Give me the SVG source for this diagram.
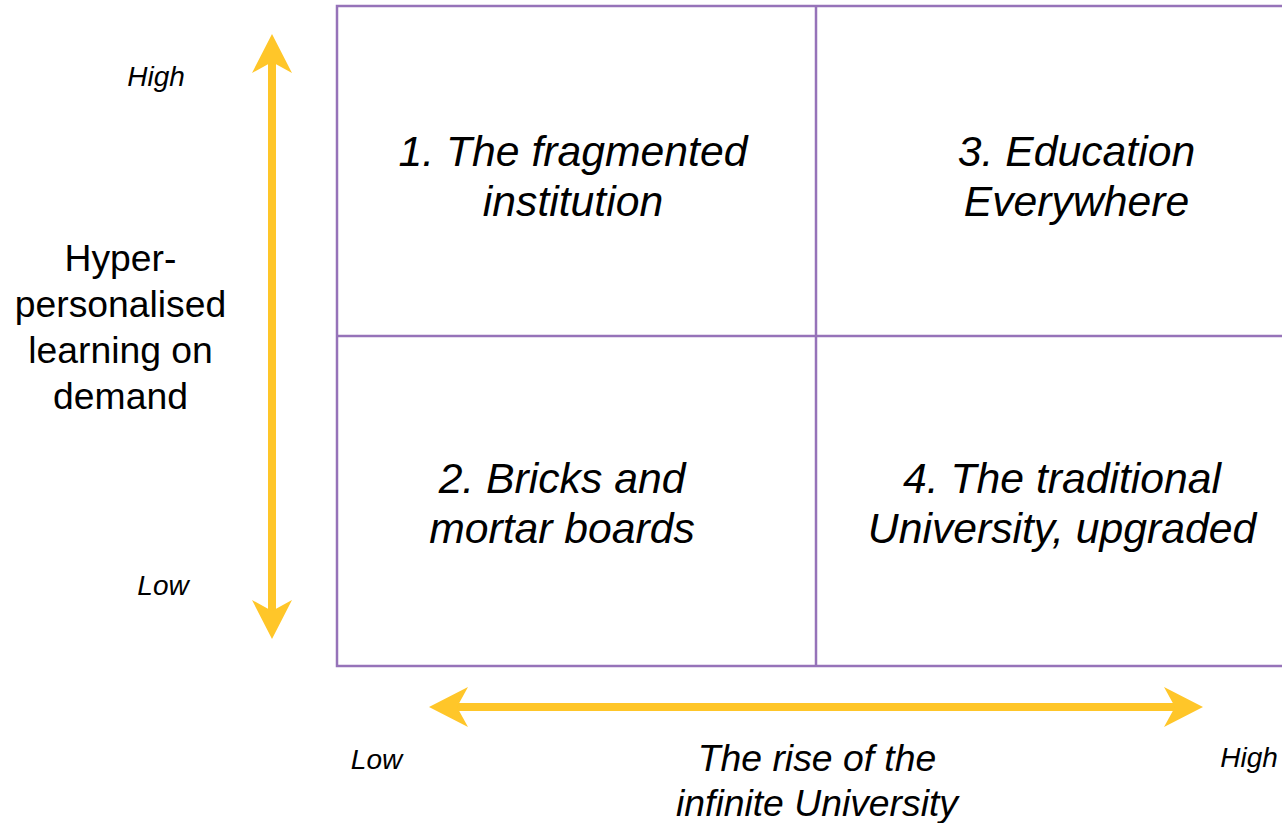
<svg xmlns="http://www.w3.org/2000/svg" width="1282" height="823" viewBox="0 0 1282 823">
  <style>
    .q { font-family: "Liberation Sans", Arial, sans-serif; font-style: italic; font-size: 42.7px; fill: #000; text-anchor: middle; }
    .ax { font-family: "Liberation Sans", Arial, sans-serif; font-style: italic; font-size: 37.3px; fill: #000; text-anchor: middle; }
    .side { font-family: "Liberation Sans", Arial, sans-serif; font-size: 37.3px; fill: #000; text-anchor: middle; }
    .lv { font-family: "Liberation Sans", Arial, sans-serif; font-style: italic; font-size: 28px; fill: #000; text-anchor: middle; }
    .grid { fill: none; stroke: #9673B9; stroke-width: 2.5; }
    .arrow { fill: none; stroke: #FFC629; stroke-width: 8; marker-start: url(#head); marker-end: url(#head); }
  </style>
  <defs>
    <marker id="head" markerUnits="userSpaceOnUse" orient="auto-start-reverse" refX="0" refY="0" markerWidth="60" markerHeight="60" viewBox="-30 -30 60 60" overflow="visible">
      <path d="M20,0 L-19,-20 L-8,0 L-19,20 Z" fill="#FFC629"/>
    </marker>
  </defs>
  <rect width="1282" height="823" fill="#fff"/>

  <g id="grid">
    <rect class="grid" x="337" y="6" width="958" height="660"/>
    <line class="grid" x1="816" y1="6" x2="816" y2="666"/>
    <line class="grid" x1="337" y1="336" x2="1295" y2="336"/>
  </g>

  <g id="connectors">
    <line class="arrow" x1="272" y1="54" x2="272" y2="619"/>
    <line class="arrow" x1="449" y1="707" x2="1183" y2="707"/>
  </g>

  <g id="q1">
    <text class="q" x="573" y="165.5">1. The fragmented</text>
    <text class="q" x="573" y="215.5">institution</text>
  </g>
  <g id="q3">
    <text class="q" x="1076.5" y="165.5">3. Education</text>
    <text class="q" x="1076.5" y="215.5">Everywhere</text>
  </g>
  <g id="q2">
    <text class="q" x="562" y="493">2. Bricks and</text>
    <text class="q" x="562" y="543">mortar boards</text>
  </g>
  <g id="q4">
    <text class="q" x="1062" y="493">4. The traditional</text>
    <text class="q" x="1062" y="543">University, upgraded</text>
  </g>

  <g id="y-axis-label">
    <text class="side" x="120.5" y="271">Hyper-</text>
    <text class="side" x="120.5" y="317">personalised</text>
    <text class="side" x="120.5" y="363">learning on</text>
    <text class="side" x="120.5" y="409">demand</text>
  </g>
  <g id="x-axis-label">
    <text class="ax" x="817" y="771">The rise of the</text>
    <text class="ax" x="817" y="816">infinite University</text>
  </g>

  <g id="levels">
    <text class="lv" x="156" y="86">High</text>
    <text class="lv" x="163" y="595">Low</text>
    <text class="lv" x="376.5" y="769">Low</text>
    <text class="lv" x="1249" y="767">High</text>
  </g>
</svg>
